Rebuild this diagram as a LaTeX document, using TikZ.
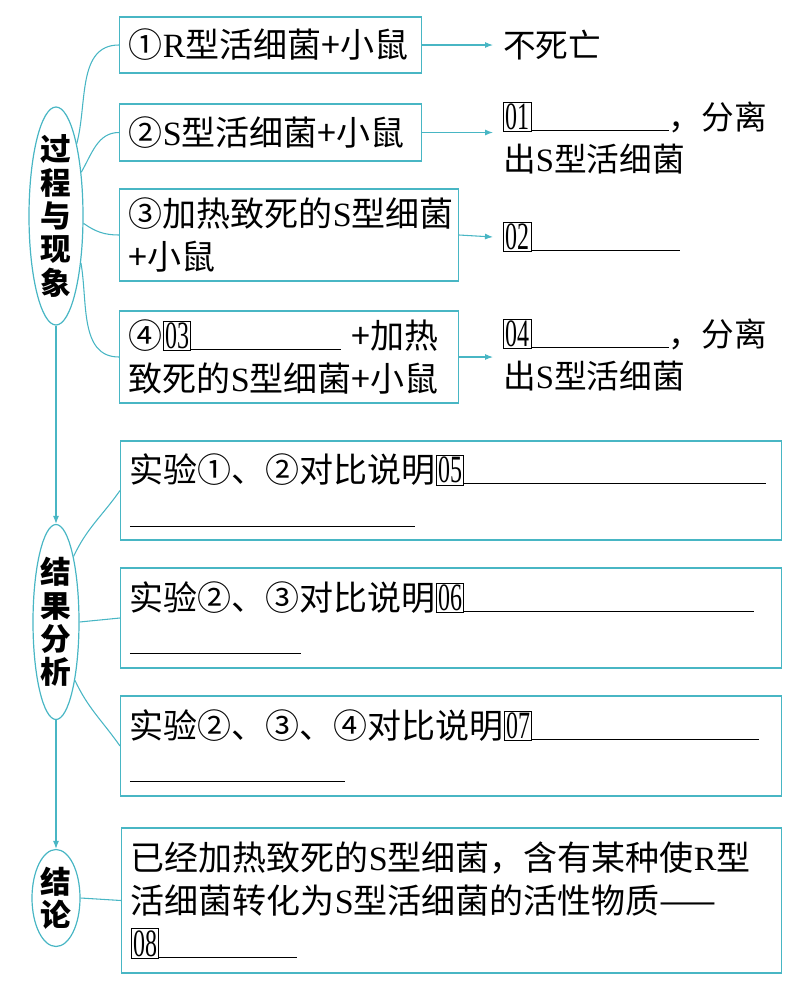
\documentclass[tikz,border=0pt]{standalone}
\usepackage{fontspec}
\setmainfont{Noto Sans CJK SC}
\newfontfamily\lat{Liberation Serif}
\newfontfamily\numfont[FakeStretch=0.62]{Liberation Serif}
\usetikzlibrary{arrows.meta,shapes.geometric}

\definecolor{linecyan}{RGB}{72,182,196}
\newcommand\qno[1]{{\setlength\fboxsep{1pt}\setlength\fboxrule{0.6pt}\fbox{\numfont\fontsize{29}{29}\selectfont #1}}}
\newcommand\gap[1]{\rule[-1pt]{#1}{0.7pt}}

\begin{document}
\begin{tikzpicture}[
  x=0.75pt,y=-0.75pt,>=Latex,
  stagebox/.style={draw=linecyan,line width=0.9pt,fill=white,align=left,
    anchor=west,inner xsep=7pt,inner ysep=0pt,
    font=\fontsize{25.5}{32}\selectfont},
  topic/.style={ellipse,draw=linecyan,line width=0.9pt,inner sep=0pt},
  topictext/.style={font=\fontsize{23}{25}\selectfont\bfseries,align=center},
  result/.style={anchor=west,align=left,inner xsep=7.5pt,inner ysep=0pt,
    font=\fontsize{24.5}{31.5}\selectfont},
  link/.style={draw=linecyan,line width=0.8pt},
  flow/.style={link,-{Latex[length=6pt,width=4.5pt]}}
]
\useasboundingbox (0,0) rectangle (796,990);

\node[topic,minimum width=40.5pt,minimum height=163.5pt,
  label={[topictext]center:过\\程\\与\\现\\象}] (proc) at (56,216) {};
\node[topic,minimum width=34.5pt,minimum height=146.25pt,
  label={[topictext]center:结\\果\\分\\析}] (anal) at (56,622) {};
\node[topic,minimum width=36pt,minimum height=72.75pt,
  label={[topictext]center:结\\论}] (concl) at (56,898) {};

\node[stagebox,text width=212.5pt,minimum height=42pt] (e1) at (119,45)
  {①{\lat R}型活细菌+小鼠};
\node[stagebox,text width=212.5pt,minimum height=42.75pt] (e2) at (119,132.5)
  {②{\lat S}型活细菌+小鼠};
\node[stagebox,text width=240.25pt,minimum height=69pt] (e3) at (119,235)
  {③加热致死的{\lat S}型细菌\\+小鼠};
\node[stagebox,text width=240.25pt,minimum height=69pt] (e4) at (119,357)
  {④\qno{03}\gap{112pt}\ +加热\\致死的{\lat S}型细菌+小鼠};

\node[result] (r1) at (493,45) {不死亡};
\node[result] (r2) at (493,138) {\qno{01}\gap{103pt}，分离\\出{\lat S}型活细菌};
\node[result] (r3) at (493,237) {\qno{02}\gap{111pt}};
\node[result] (r4) at (493,355) {\qno{04}\gap{103pt}，分离\\出{\lat S}型活细菌};

\node[stagebox,text width=481.75pt,minimum height=74.25pt] (c1) at (120,490.5)
  {实验①、②对比说明\qno{05}\gap{226pt}\\\gap{214pt}};
\node[stagebox,text width=481.75pt,minimum height=75pt] (c2) at (120,618)
  {实验②、③对比说明\qno{06}\gap{217pt}\\\gap{128pt}};
\node[stagebox,text width=481.75pt,minimum height=75pt] (c3) at (120,746)
  {实验②、③、④对比说明\qno{07}\gap{170pt}\\\gap{161pt}};

\node[stagebox,text width=481pt,minimum height=108.75pt] (fin) at (121,900.5)
  {已经加热致死的{\lat S}型细菌，含有某种使{\lat R}型\\
   活细菌转化为{\lat S}型活细菌的活性物质——\\
   \qno{08}\gap{103pt}};

\draw[link] (proc.74) to[out=75,in=180] (e1.west);
\draw[link] (proc.60) to[out=60,in=180] (e2.west);
\draw[link] (proc.-15) to[out=-35,in=180] (e3.west);
\draw[link] (proc.-62) to[out=-80,in=180] (e4.west);

\draw[flow] (e1.east) -- (r1.west);
\draw[flow] (e2.east) -- (e2.east -| r2.west);
\draw[flow] (e3.east) -- (r3.west);
\draw[flow] (e4.east) -- (e4.east -| r4.west);

\draw[link] (anal.75) to[out=65,in=235] (c1.west);
\draw[link] (anal.east) -- (c2.west);
\draw[link] (anal.-72) to[out=-65,in=125] (c3.west);

\draw[flow] (proc.south) -- (anal.north);
\draw[flow] (anal.south) -- (concl.north);
\draw[link] (concl.east) -- (fin.west);
\end{tikzpicture}
\end{document}
